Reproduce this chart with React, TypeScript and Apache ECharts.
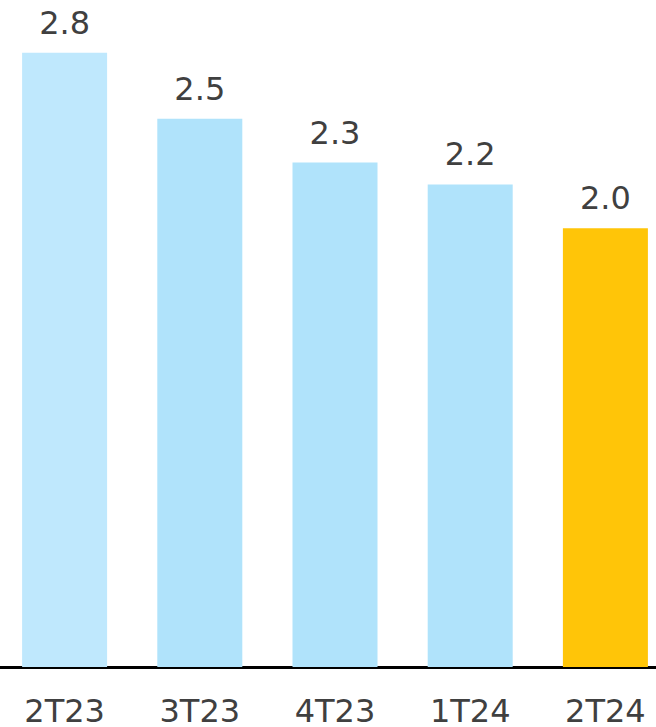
import React, { useEffect, useRef } from "react";
import * as echarts from "echarts";

const categories = ["2T23", "3T23", "4T23", "1T24", "2T24"];
const values = [2.8, 2.5, 2.3, 2.2, 2.0];
const barColors = ["#BFE8FD", "#B0E3FB", "#B0E3FB", "#B0E3FB", "#FFC508"];

export default function App() {
  const ref = useRef<HTMLDivElement>(null);
  useEffect(() => {
    if (!ref.current) return;
    const chart = echarts.init(ref.current, null, { renderer: "svg" });
    chart.setOption({
      animation: false,
      backgroundColor: "#ffffff",
      grid: { left: 0, right: 0, top: 9, bottom: 60, containLabel: false },
      xAxis: {
        type: "category",
        data: categories,
        axisLine: { show: true, lineStyle: { color: "#000000", width: 3 } },
        axisTick: { show: false },
        axisLabel: {
          color: "#404040",
          fontSize: 32,
          lineHeight: 26,
          fontFamily: "DejaVu Sans",
          margin: 31,
        },
      },
      yAxis: {
        type: "value",
        min: 0,
        max: 3,
        show: false,
        splitLine: { show: false },
      },
      series: [
        {
          type: "bar",
          barWidth: 85,
          data: values.map((v, i) => ({ value: v, itemStyle: { color: barColors[i] } })),
          label: {
            show: true,
            position: "top",
            distance: 14,
            color: "#404040",
            fontSize: 32,
            fontFamily: "DejaVu Sans",
            formatter: (p: any) => p.value.toFixed(1),
          },
        },
      ],
    });
    return () => chart.dispose();
  }, []);
  return (
    <div style={{ position: "fixed", left: 0, top: 0, width: 656, height: 727, overflow: "hidden", background: "#fff" }}>
      <div
        ref={ref}
        style={{ position: "absolute", left: -3, top: 0, width: 676, height: 727 }}
      />
    </div>
  );
}
